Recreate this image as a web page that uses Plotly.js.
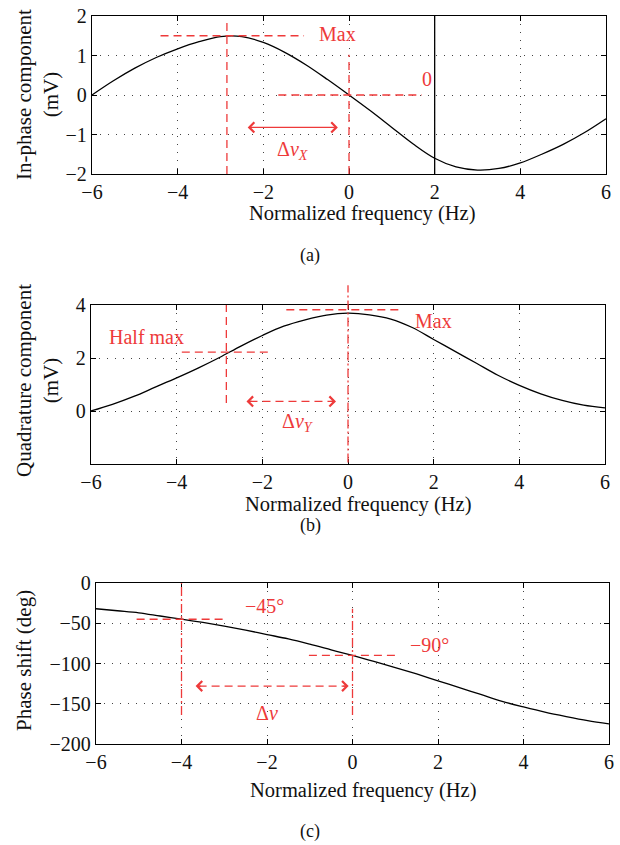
<!DOCTYPE html>
<html>
<head>
<meta charset="utf-8">
<script src="https://cdn.plot.ly/plotly-3.0.1.min.js"></script>
<style>body{margin:0;background:#fff}#chart{width:620px;height:845px}</style>
</head>
<body>
<div id="chart"></div>
<script>
// ---------- data ----------
const freq = [-6,-5.5,-5,-4.5,-4,-3.5,-3,-2.5,-2,-1.5,-1,-0.5,0,0.5,1,1.5,2,2.5,3,3.5,4,4.5,5,5.5,6];
const inPhase = [0.0,0.36,0.68,0.95,1.17,1.35,1.48,1.48,1.33,1.08,0.76,0.39,0.0,-0.40,-0.82,-1.24,-1.60,-1.82,-1.90,-1.86,-1.72,-1.50,-1.25,-0.95,-0.60];
const quadrature = [0.0,0.25,0.55,0.90,1.25,1.62,2.02,2.45,2.85,3.2,3.44,3.62,3.69,3.63,3.47,3.15,2.7,2.25,1.8,1.35,0.97,0.65,0.4,0.22,0.12];
const phaseShift = [-32,-34.5,-37,-41,-45,-49,-53.5,-58.5,-64,-69.5,-76,-83,-90,-97.5,-105,-113,-121.5,-130,-138.5,-147,-154,-160.5,-166,-171,-175];

const xTicks = [-6,-4,-2,0,2,4,6];
const yTicksA = [-2,-1,0,1,2];
const yTicksB = [0,2,4];
const yTicksC = [-200,-150,-100,-50,0];
const xTitle = 'Normalized frequency (Hz)';
const yTitles = ['In-phase component<br>(mV)', 'Quadrature component<br>(mV)', 'Phase shift (deg)'];

// marker values
const aMaxX = -2.85, aMaxY = 1.5, aZeroX = 0, aLineX = 2;
const bHalfX = -2.84, bHalfY = 2.22, bMaxX = 0, bMaxY = 3.82;
const cHalfX = -4, cHalfY = -45, cCenterX = 0, cCenterY = -90;

// ---------- styling ----------
const RED = '#ee3a3a';
const FONT = 'Liberation Serif';
const dash = '8px,5px';
const dashdot = '9px,3px,2px,3px';

const doms = {
  a: {x:[92/620, 606/620], y:[1-174/845, 1-16/845]},
  b: {x:[91/620, 605/620], y:[1-464/845, 1-305/845]},
  c: {x:[96/620, 609/620], y:[1-744/845, 1-583/845]}
};

function xax(dom, anchor){
  return {domain:dom, anchor:anchor, range:[-6,6], tickvals:xTicks, ticks:'inside', ticklen:5,
    tickcolor:'#000', showline:true, linecolor:'#000', linewidth:1.3, mirror:'ticks',
    showgrid:true, gridcolor:'#444', gridwidth:1, griddash:'1px,7px', zeroline:false,
    tickfont:{family:FONT, size:20, color:'#111'}};
}
function yax(dom, anchor, range, ticks){
  return {domain:dom, anchor:anchor, range:range, tickvals:ticks, ticks:'inside', ticklen:5,
    tickcolor:'#000', showline:true, linecolor:'#000', linewidth:1.3, mirror:'ticks',
    showgrid:true, gridcolor:'#444', gridwidth:1, griddash:'1px,7px', zeroline:false,
    tickfont:{family:FONT, size:20, color:'#111'}};
}

const traces = [
  {x:freq, y:inPhase, xaxis:'x', yaxis:'y', mode:'lines', line:{color:'#000', width:1.3, shape:'spline'}, hoverinfo:'skip'},
  {x:freq, y:quadrature, xaxis:'x2', yaxis:'y2', mode:'lines', line:{color:'#000', width:1.3, shape:'spline'}, hoverinfo:'skip'},
  {x:freq, y:phaseShift, xaxis:'x3', yaxis:'y3', mode:'lines', line:{color:'#000', width:1.3, shape:'spline'}, hoverinfo:'skip'}
];

function seg(xr, yr, x0, y0, x1, y1, d, color){
  return {type:'line', xref:xr, yref:yr, x0:x0, y0:y0, x1:x1, y1:y1,
    line:{color:color||RED, width:1.3, dash:d||dash}, layer:'above'};
}
// convert a y2 data value to paper (for the guide line in (b) that exceeds the box)
function y2paper(v){ const r=[-2,4], d=doms.b.y; return d[0]+(v-r[0])/(r[1]-r[0])*(d[1]-d[0]); }

const shapes = [
  // (a)
  seg('x','y', aMaxX, -2, aMaxX, 1.88),
  seg('x','y', -4.4, aMaxY, -1.05, aMaxY),
  seg('x','y', aZeroX, -2, aZeroX, 1.02),
  seg('x','y', -1.65, 0, 1.7, 0),
  seg('x','y', aLineX, -2, aLineX, 2, 'solid', '#000'),
  // (b)
  seg('x2','y2', bHalfX, 0.3, bHalfX, 4),
  seg('x2','y2', -3.88, bHalfY, -1.86, bHalfY),
  {type:'line', xref:'x2', yref:'paper', x0:bMaxX, x1:bMaxX, y0:y2paper(-1.94), y1:y2paper(4.75), line:{color:RED, width:1.3, dash:dashdot}, layer:'above'},
  seg('x2','y2', -1.44, bMaxY, 1.26, bMaxY),
  seg('x2','y2', -2.3, 0.36, -0.34, 0.36),
  // (c)
  seg('x3','y3', cHalfX, -164, cHalfX, 0, dashdot),
  seg('x3','y3', -5.05, cHalfY, -2.98, cHalfY),
  seg('x3','y3', cCenterX, -164, cCenterX, -32, dashdot),
  seg('x3','y3', -1.02, cCenterY, 1.02, cCenterY),
  seg('x3','y3', -3.6, -128, -0.16, -128)
];

function txt(xr, yr, x, y, t){
  return {xref:xr, yref:yr, x:x, y:y, text:t, showarrow:false, xanchor:'center', yanchor:'middle',
    font:{family:FONT, size:20, color:RED}};
}
function head(xr, yr, x, y, dir){
  return {xref:xr, yref:yr, x:x, y:y, ax:dir*7, ay:0, text:'', showarrow:true, arrowhead:4,
    arrowsize:1.5, arrowwidth:1.3, arrowcolor:RED, standoff:0};
}
function paperText(xpx, ypx, t, size, angle){
  return {xref:'paper', yref:'paper', x:xpx/620, y:1-ypx/845, text:t, showarrow:false,
    textangle:angle||0, xanchor:'center', yanchor:'middle', font:{family:FONT, size:size, color:'#111'}};
}

const annotations = [
  txt('x','y', -0.26, 1.55, 'Max'),
  txt('x','y', 1.81, 0.4, '0'),
  txt('x','y', -1.33, -1.4, 'Δ<i>ν</i><sub><i>X</i></sub>'),
  {xref:'x', yref:'y', axref:'x', ayref:'y', x:-0.26, y:-0.82, ax:-2.4, ay:-0.82, text:'', showarrow:true,
    arrowhead:4, arrowside:'end+start', arrowsize:1.5, arrowwidth:1.3, arrowcolor:RED, standoff:0, startstandoff:0},
  txt('x2','y2', -4.7, 2.78, 'Half max'),
  txt('x2','y2', 2.0, 3.4, 'Max'),
  txt('x2','y2', -1.16, -0.44, 'Δ<i>ν</i><sub><i>Y</i></sub>'),
  head('x2','y2', -2.37, 0.36, 1),
  head('x2','y2', -0.28, 0.36, -1),
  txt('x3','y3', -2.05, -29, '−45°'),
  txt('x3','y3', 1.81, -77, '−90°'),
  txt('x3','y3', -2.0, -161, 'Δ<i>ν</i>'),
  head('x3','y3', -3.67, -128, 1),
  head('x3','y3', -0.09, -128, -1),
  // axis titles
  paperText(362, 213, xTitle, 20.5),
  paperText(358, 504, xTitle, 20.5),
  paperText(364, 790, xTitle, 20.5),
  paperText(37, 95, yTitles[0], 21, -90),
  paperText(37, 381, yTitles[1], 21, -90),
  paperText(24, 661, yTitles[2], 21, -90),
  // captions
  paperText(310, 256, '(a)', 18),
  paperText(310, 525.5, '(b)', 18),
  paperText(310, 831, '(c)', 18)
];

const layout = {
  width:620, height:845, margin:{l:0, r:0, t:0, b:0},
  paper_bgcolor:'#fff', plot_bgcolor:'#fff', showlegend:false,
  font:{family:FONT, size:20, color:'#111'},
  xaxis: xax(doms.a.x, 'y'),
  yaxis: yax(doms.a.y, 'x', [-2,2], yTicksA),
  xaxis2: xax(doms.b.x, 'y2'),
  yaxis2: yax(doms.b.y, 'x2', [-2,4], yTicksB),
  xaxis3: xax(doms.c.x, 'y3'),
  yaxis3: yax(doms.c.y, 'x3', [-200,0], yTicksC),
  shapes: shapes,
  annotations: annotations
};

Plotly.newPlot('chart', traces, layout, {staticPlot:true, displayModeBar:false});
</script>
</body>
</html>
